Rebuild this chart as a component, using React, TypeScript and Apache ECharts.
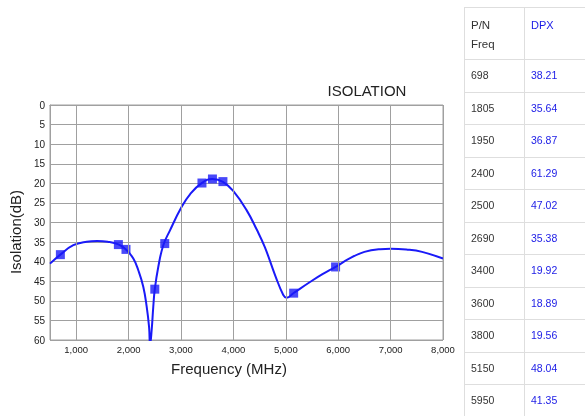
import React, { useEffect, useRef } from "react";
import * as echarts from "echarts";

// Measured points (P/N table)
const freqs = [698, 1805, 1950, 2400, 2500, 2690, 3400, 3600, 3800, 5150, 5950];
const dpx = [38.21, 35.64, 36.87, 61.29, 47.02, 35.38, 19.92, 18.89, 19.56, 48.04, 41.35];

// Continuous response curve
const curveFreq = [500, 698, 945, 1200, 1400, 1600, 1805, 1950, 2090, 2185, 2280, 2345, 2390, 2410, 2440, 2471, 2500, 2567, 2662, 2790, 3000, 3172, 3400, 3600, 3800, 4000, 4254, 4445, 4600, 4800, 4952, 5017, 5150, 5462, 5700, 5950, 6200, 6500, 6800, 7000, 7300, 7600, 8000];
const curveDb = [40.5, 38.2, 35.8, 34.9, 34.7, 34.9, 35.6, 36.9, 39.2, 42.2, 46.4, 51.5, 56.6, 61.3, 57.5, 51.5, 47.0, 41.3, 35.8, 32.0, 26.3, 22.8, 19.9, 18.9, 19.6, 22.0, 26.9, 31.8, 36.3, 43.6, 48.5, 49.2, 48.0, 45.2, 43.2, 41.35, 39.3, 37.5, 36.8, 36.7, 36.9, 37.5, 39.2];

const xTicks = [1000, 2000, 3000, 4000, 5000, 6000, 7000, 8000];

const title = "ISOLATION";
const xName = "Frequency (MHz)";
const yName = "Isolation(dB)";
const headerPN = "P/N";
const headerFreq = "Freq";
const headerCol = "DPX";

const BLUE = "#1a1af8";
const GRID = "#a0a0a0";
const FONT = "Liberation Sans, Arial, sans-serif";

function fmt(v: number) {
  return v >= 1000 ? Math.floor(v / 1000) + "," + String(v % 1000).padStart(3, "0") : String(v);
}

export default function App() {
  const ref = useRef<HTMLDivElement>(null);
  useEffect(() => {
    document.body.style.margin = "0";
    const chart = echarts.init(ref.current!, null, { renderer: "svg" });

    const tableLeft = 464;
    const colDiv = 524;
    const tableTop = 7;
    const headerBottom = 59;
    const rowH = 32.5;
    const graphics: any[] = [];
    const lineStyle = { stroke: "#dedede", lineWidth: 1 };
    graphics.push({ type: "line", shape: { x1: tableLeft + 0.5, y1: tableTop, x2: tableLeft + 0.5, y2: 416 }, style: lineStyle });
    graphics.push({ type: "line", shape: { x1: colDiv + 0.5, y1: tableTop, x2: colDiv + 0.5, y2: 416 }, style: lineStyle });
    graphics.push({ type: "line", shape: { x1: tableLeft, y1: tableTop + 0.5, x2: 585, y2: tableTop + 0.5 }, style: lineStyle });
    graphics.push({ type: "line", shape: { x1: tableLeft, y1: headerBottom + 0.5, x2: 585, y2: headerBottom + 0.5 }, style: lineStyle });
    const txt = (t: string, x: number, y: number, color: string, size: number) => ({
      type: "text",
      x,
      y,
      style: { text: t, fill: color, font: `${size}px ${FONT}`, textVerticalAlign: "middle", textAlign: "left" },
    });
    graphics.push(txt(headerPN, 471, 25, "#333", 11.5));
    graphics.push(txt(headerFreq, 471, 44, "#333", 11.5));
    graphics.push(txt(headerCol, 531, 25, "#1a1ae6", 11));
    freqs.forEach((f, i) => {
      const top = headerBottom + rowH * i;
      const bottom = Math.round(top + rowH);
      graphics.push({ type: "line", shape: { x1: tableLeft, y1: bottom + 0.5, x2: 585, y2: bottom + 0.5 }, style: lineStyle });
      graphics.push(txt(String(f), 471, top + rowH / 2, "#333", 10.5));
      graphics.push(txt(dpx[i].toFixed(2), 531, top + rowH / 2, "#1a1ae6", 10.5));
    });
    graphics.push({
      type: "text",
      x: 229,
      y: 368,
      style: { text: xName, fill: "#222", font: `15px ${FONT}`, textAlign: "center", textVerticalAlign: "middle" },
    });
    graphics.push({
      type: "text",
      x: 15,
      y: 232,
      rotation: Math.PI / 2,
      style: { text: yName, fill: "#222", font: `15px ${FONT}`, textAlign: "center", textVerticalAlign: "middle" },
    });
    graphics.push({
      type: "text",
      x: 367,
      y: 90,
      style: { text: title, fill: "#222", font: `15px ${FONT}`, textAlign: "center", textVerticalAlign: "middle" },
    });

    chart.setOption({
      animation: false,
      grid: { left: 50, right: 142, top: 105, bottom: 76, show: true, borderColor: GRID, borderWidth: 1 },
      xAxis: {
        type: "value",
        min: 500,
        max: 8000,
        splitLine: { show: false },
        axisTick: { show: false },
        axisLine: { show: true, lineStyle: { color: GRID } },
        axisLabel: {
          customValues: xTicks,
          formatter: (v: number) => fmt(v),
          color: "#222",
          fontSize: 9.5,
          fontFamily: FONT,
          margin: 4,
        },
      },
      yAxis: {
        type: "value",
        inverse: true,
        min: 0,
        max: 60,
        interval: 5,
        splitLine: { show: true, lineStyle: { color: GRID, width: 1 } },
        axisTick: { show: false },
        axisLine: { show: true, lineStyle: { color: GRID } },
        axisLabel: { color: "#222", fontSize: 10, fontFamily: FONT, margin: 5 },
      },
      graphic: graphics,
      series: [
        {
          type: "line",
          data: [],
          z: 1,
          silent: true,
          markLine: {
            silent: true,
            symbol: ["none", "none"],
            label: { show: false },
            lineStyle: { color: GRID, type: "solid", width: 1 },
            emphasis: { disabled: true },
            data: xTicks.map((v) => ({ xAxis: v })),
          },
        },
        {
          type: "line",
          data: curveFreq.map((f, i) => [f, curveDb[i]]),
          smooth: 0.45,
          showSymbol: false,
          symbol: "none",
          clip: true,
          z: 3,
          lineStyle: { color: BLUE, width: 2 },
        },
        {
          type: "scatter",
          data: freqs.map((f, i) => [f, dpx[i]]),
          symbol: "rect",
          symbolSize: 9,
          clip: true,
          z: 4,
          itemStyle: { color: BLUE },
        },
      ],
    });
    return () => chart.dispose();
  }, []);
  return <div ref={ref} style={{ position: "fixed", left: 0, top: 0, width: 585, height: 416 }} />;
}
